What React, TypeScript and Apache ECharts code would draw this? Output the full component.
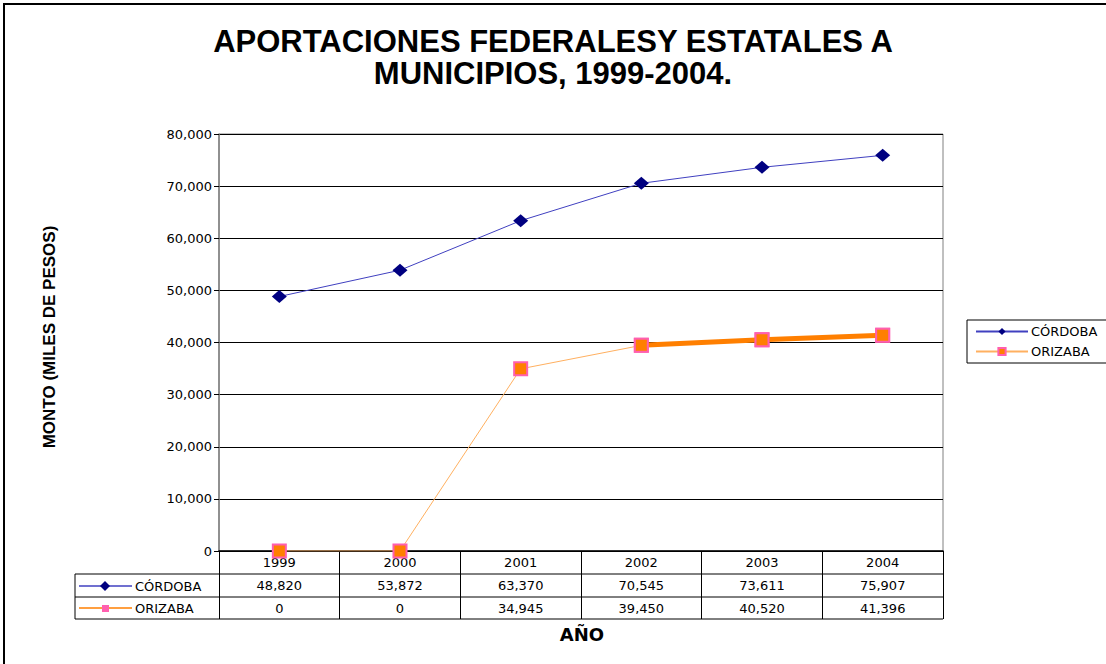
import React, { useEffect, useRef } from "react";
import * as echarts from "echarts";

const years = ["1999", "2000", "2001", "2002", "2003", "2004"];
const cordoba = [48820, 53872, 63370, 70545, 73611, 75907];
const orizaba = [0, 0, 34945, 39450, 40520, 41396];
// segment of the ORIZABA line drawn heavy in the original (2002-2004)
const orizabaHeavy = [null, null, null, 39450, 40520, 41396];
const yTicks = { min: 0, max: 80000, interval: 10000 };

const titleText = "APORTACIONES FEDERALESY ESTATALES A\nMUNICIPIOS, 1999-2004.";
const yName = "MONTO (MILES DE PESOS)";
const xName = "AÑO";

const fmt = (v: number) => v.toLocaleString("en-US");

export default function App() {
  const ref = useRef<HTMLDivElement>(null);
  useEffect(() => {
    document.body.style.margin = "0";
    const chart = echarts.init(ref.current!, null, { renderer: "svg" });
    const GL = 219, GT = 134, GR = 943, GB = 551;
    const tableFont = "'DejaVu Sans', Verdana, sans-serif";
    const orizabaMarker = {
      symbol: "rect",
      symbolSize: 13,
      itemStyle: { color: "#FF7F00", borderColor: "#FF5FAF", borderWidth: 2 },
    };
    chart.setOption({
      animation: false,
      backgroundColor: "#fff",
      title: {
        text: titleText,
        left: "center",
        top: 20,
        textStyle: {
          fontFamily: "'Liberation Sans', Arial, sans-serif",
          fontWeight: "bold",
          fontSize: 31,
          lineHeight: 32,
          color: "#000",
        },
      },
      legend: {
        data: ["CÓRDOBA", "ORIZABA"],
        orient: "vertical",
        left: 967,
        top: 320,
        borderColor: "#000",
        borderWidth: 1,
        padding: [5, 10, 5, 8],
        itemGap: 7,
        itemWidth: 52,
        itemHeight: 9,
        textStyle: { fontFamily: tableFont, fontSize: 13, color: "#000", padding: [0, 0, 0, -2] },
      },
      grid: {
        left: GL,
        top: GT,
        width: GR - GL,
        height: GB - GT,
        show: true,
        borderColor: "#808080",
        borderWidth: 1,
        backgroundColor: "transparent",
      },
      xAxis: {
        type: "category",
        data: years,
        boundaryGap: true,
        axisLine: { lineStyle: { color: "#000", width: 1.5 } },
        axisTick: { show: true, length: 68, lineStyle: { color: "#000" } },
        axisLabel: {
          interval: 0,
          margin: 0,
          lineHeight: 23,
          fontFamily: tableFont,
          fontSize: 13,
          color: "#000",
          formatter: (v: string, i: number) => `${v}\n${fmt(cordoba[i])}\n${fmt(orizaba[i])}`,
        },
      },
      yAxis: {
        type: "value",
        min: yTicks.min,
        max: yTicks.max,
        interval: yTicks.interval,
        axisLine: { show: true, lineStyle: { color: "#808080", width: 1.5 } },
        axisTick: { show: true, length: 5, lineStyle: { color: "#000" } },
        axisLabel: {
          margin: 7,
          fontFamily: tableFont,
          fontSize: 13,
          color: "#000",
          formatter: (v: number) => fmt(v),
        },
        splitLine: { lineStyle: { color: "#000", width: 1 } },
      },
      series: [
        {
          name: "ORIZABA",
          type: "line",
          data: orizaba,
          z: 2,
          ...orizabaMarker,
          lineStyle: { color: "#FFB060", width: 1 },
        },
        {
          name: "ORIZABA_HEAVY",
          type: "line",
          data: orizabaHeavy,
          z: 3,
          ...orizabaMarker,
          lineStyle: { color: "#FF7F00", width: 5 },
        },
        {
          name: "CÓRDOBA",
          type: "line",
          data: cordoba,
          z: 4,
          symbol: "diamond",
          symbolSize: [15, 13],
          itemStyle: { color: "#000080" },
          lineStyle: { color: "#4040C0", width: 1 },
        },
      ],
      graphic: [
        {
          type: "rect",
          shape: { x: 4, y: 4, width: 1120, height: 680 },
          style: { fill: "none", stroke: "#000", lineWidth: 2 },
          silent: true,
        },
        // data-table rules
        { type: "line", shape: { x1: 75, y1: 574, x2: GR, y2: 574 }, style: { stroke: "#000", lineWidth: 1 } },
        { type: "line", shape: { x1: 75, y1: 597, x2: GR, y2: 597 }, style: { stroke: "#000", lineWidth: 1 } },
        { type: "line", shape: { x1: 75, y1: 619, x2: GR, y2: 619 }, style: { stroke: "#000", lineWidth: 1 } },
        { type: "line", shape: { x1: 75, y1: 574, x2: 75, y2: 619 }, style: { stroke: "#000", lineWidth: 1 } },
        // row headers
        { type: "line", shape: { x1: 79, y1: 586, x2: 132, y2: 586 }, style: { stroke: "#4040C0", lineWidth: 1.5 } },
        { type: "polygon", shape: { points: [[105, 581], [110, 586], [105, 591], [100, 586]] }, style: { fill: "#000080" } },
        { type: "text", x: 135, y: 586, style: { text: "CÓRDOBA", font: `13px ${tableFont}`, fill: "#000", textVerticalAlign: "middle" } },
        { type: "line", shape: { x1: 79, y1: 608, x2: 132, y2: 608 }, style: { stroke: "#FF7F00", lineWidth: 1.5 } },
        { type: "rect", shape: { x: 102, y: 605, width: 7, height: 7 }, style: { fill: "#FF5FAF" } },
        { type: "text", x: 135, y: 608, style: { text: "ORIZABA", font: `13px ${tableFont}`, fill: "#000", textVerticalAlign: "middle" } },
        // axis titles
        {
          type: "text",
          x: 49,
          y: 337,
          rotation: Math.PI / 2,
          style: {
            text: yName,
            font: "bold 17px 'Liberation Sans', Arial, sans-serif",
            fill: "#000",
            textAlign: "center",
            textVerticalAlign: "middle",
          },
        },
        {
          type: "text",
          x: 582,
          y: 634,
          style: {
            text: xName,
            font: `bold 18px ${tableFont}`,
            fill: "#000",
            textAlign: "center",
            textVerticalAlign: "middle",
          },
        },
      ],
    });
    return () => chart.dispose();
  }, []);
  return <div ref={ref} style={{ width: 1106, height: 664 }} />;
}
